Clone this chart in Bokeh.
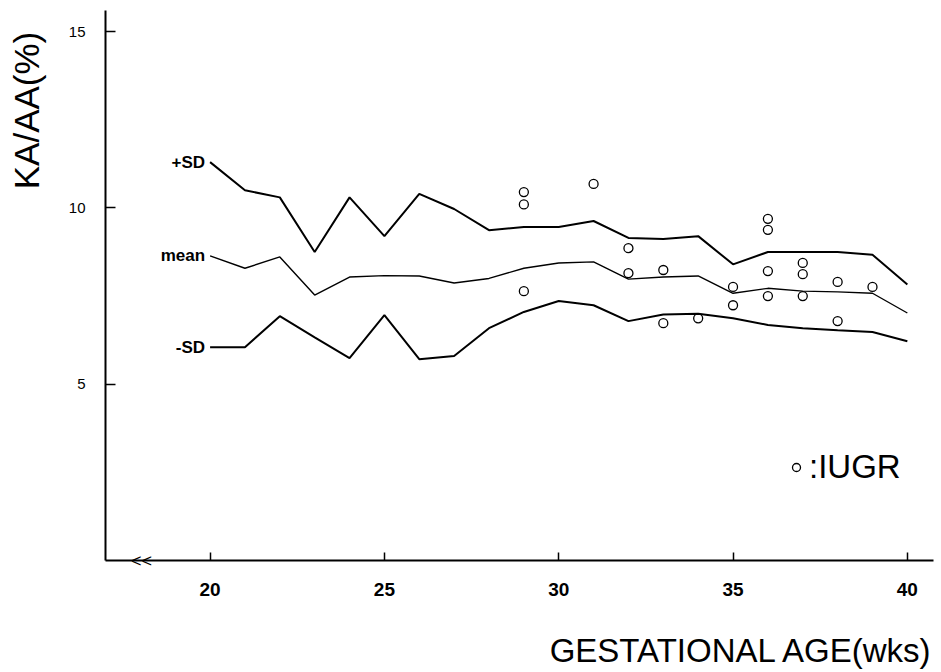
import math
from bokeh.plotting import figure
from bokeh.models import Range1d, FixedTicker, Label, Legend, LegendItem
from bokeh.embed import file_html
from bokeh.resources import INLINE

# ---------------- data ----------------
weeks = list(range(20, 41))
plus_sd = [11.3, 10.5, 10.3, 8.75, 10.3, 9.2, 10.4, 9.97, 9.37, 9.46, 9.46,
           9.63, 9.15, 9.12, 9.2, 8.4, 8.75, 8.75, 8.75, 8.67, 7.83]
mean = [8.64, 8.29, 8.61, 7.53, 8.04, 8.08, 8.07, 7.87, 8.0, 8.29, 8.44,
        8.47, 7.98, 8.04, 8.07, 7.58, 7.72, 7.64, 7.62, 7.58, 7.02]
minus_sd = [6.05, 6.05, 6.93, 6.33, 5.74, 6.96, 5.71, 5.8, 6.59, 7.05, 7.36,
            7.24, 6.79, 6.98, 7.0, 6.87, 6.68, 6.59, 6.53, 6.48, 6.22]
iugr_weeks = [29, 29, 29, 31, 32, 32, 33, 33, 34, 35, 35,
              36, 36, 36, 36, 37, 37, 37, 38, 38, 39]
iugr_values = [10.45, 10.1, 7.64, 10.68, 8.86, 8.15, 8.24, 6.73, 6.87, 7.76, 7.24,
               9.69, 9.38, 8.21, 7.5, 8.44, 8.12, 7.5, 7.9, 6.79, 7.76]
x_ticks = [20, 25, 30, 35, 40]
y_ticks = [5, 10, 15]
series_labels = ["+SD", "mean", "-SD"]
x_title = "GESTATIONAL AGE(wks)"
y_title = "KA/AA(%)"
legend_label = ":IUGR"

# ---------------- layout ----------------
# axis extents (data) and where they sit on the canvas (pixels)
AX0, AX1 = 17.0, 40.75
AY0, AY1 = 0.0, 15.6
W, H = 935, 672
FL, FR, FT, FB = 105, 933, 10, 560
FONT = "Liberation Sans"

sx = (AX1 - AX0) / (FR - FL)   # data units per pixel, x
sy = (AY1 - AY0) / (FB - FT)   # data units per pixel, y
X_START, X_END = AX0 - FL * sx, AX0 + (W - FL) * sx
Y_START, Y_END = AY0 - (H - FB) * sy, AY0 + FB * sy


def dx(px):
    return AX0 + (px - FL) * sx


def dy(py):
    return AY0 + (FB - py) * sy


p = figure(width=W, height=H, output_backend="svg", toolbar_location=None,
           title=None, x_range=Range1d(X_START, X_END),
           y_range=Range1d(Y_START, Y_END),
           min_border_left=0, min_border_right=0,
           min_border_top=0, min_border_bottom=0)
p.grid.visible = False
p.outline_line_color = None
p.background_fill_color = "white"
p.border_fill_color = "white"

p.xaxis.fixed_location = AY0
p.yaxis.fixed_location = AX0
p.xaxis.bounds = (AX0, AX1)
p.yaxis.bounds = (AY0, AY1)

for ax, ticks in ((p.xaxis, x_ticks), (p.yaxis, y_ticks)):
    ax.ticker = FixedTicker(ticks=ticks, minor_ticks=[])
    ax.axis_line_color = "black"
    ax.axis_line_width = 2
    ax.major_tick_line_color = "black"
    ax.major_tick_line_width = 1.5
    ax.major_tick_out = 0
    ax.minor_tick_in = 0
    ax.minor_tick_out = 0
    ax.major_label_text_font = FONT
    ax.major_label_text_color = "black"

p.xaxis.major_tick_in = 8
p.xaxis.major_label_standoff = 22
p.xaxis.major_label_text_font_size = "19px"
p.xaxis.major_label_text_font_style = "bold"
p.yaxis.major_tick_in = 10
p.yaxis.major_label_standoff = 20
p.yaxis.major_label_text_font_size = "15px"

# curves
p.line(weeks, plus_sd, line_color="black", line_width=2)
p.line(weeks, mean, line_color="black", line_width=1.4)
p.line(weeks, minus_sd, line_color="black", line_width=2)

# IUGR points
r = p.scatter(iugr_weeks, iugr_values, marker="circle", size=9,
              fill_color=None, line_color="black", line_width=1.3)

# curve labels
for txt, ser in zip(series_labels, (plus_sd, mean, minus_sd)):
    p.add_layout(Label(x=weeks[0], y=ser[0], x_offset=-5, text=txt,
                       text_align="right", text_baseline="middle",
                       text_font=FONT, text_font_style="bold",
                       text_font_size="17px", text_color="black"))

# axis titles
p.add_layout(Label(x=dx(26), y=dy(110), text=y_title, angle=math.pi / 2,
                   text_align="center", text_baseline="middle",
                   text_font=FONT, text_font_size="35px", text_color="black"))
p.add_layout(Label(x=dx(933), y=dy(650), text=x_title,
                   text_align="right", text_baseline="middle",
                   text_font=FONT, text_font_size="33px", text_color="black"))

# axis break mark
p.add_layout(Label(x=dx(141), y=AY0, text="<<", text_align="center",
                   text_baseline="middle", text_font=FONT,
                   text_font_size="18px", text_color="black"))

# legend
legend = Legend(items=[LegendItem(label=legend_label, renderers=[r])],
                location=(786, H - 486), border_line_color=None,
                background_fill_alpha=0, padding=0, margin=0,
                glyph_width=20, glyph_height=26, label_height=26,
                label_standoff=3, label_text_font=FONT,
                label_text_font_size="33px", label_text_color="black")
p.add_layout(legend)

open("out.html", "w").write(file_html(p, INLINE, title="KA/AA"))
